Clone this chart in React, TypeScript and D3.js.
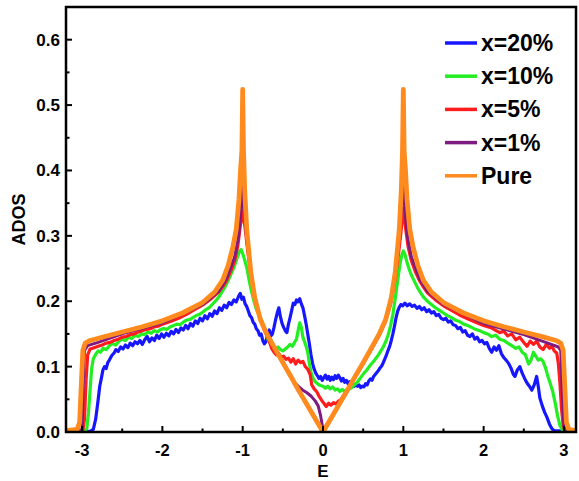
import * as d3 from "d3";
import { useEffect, useRef } from "react";

type Pt = [number, number];

const seriesNames = ["x=20%", "x=10%", "x=5%", "x=1%", "Pure"];
const seriesColors = ["#1717ff", "#22ee22", "#ff1c1c", "#7f1a80", "#ff8a1e"];
const seriesWidths = [3.2, 3.2, 3.2, 3, 4.8];
const xTicks = [-3, -2, -1, 0, 1, 2, 3];
const xMinor = [-2.5, -1.5, -0.5, 0.5, 1.5, 2.5];
const yTicks = [0, 0.1, 0.2, 0.3, 0.4, 0.5, 0.6];
const yMinor = [0.05, 0.15, 0.25, 0.35, 0.45, 0.55];

// x = 20%
const blue: Pt[] = [
  [-3.2, 0.001], [-2.9, 0.001], [-2.86, 0.004], [-2.83, 0.02], [-2.8, 0.049], [-2.78, 0.07], [-2.76, 0.082],
  [-2.74, 0.095], [-2.72, 0.1], [-2.7, 0.097], [-2.68, 0.106], [-2.66, 0.11], [-2.63, 0.117], [-2.6, 0.121],
  [-2.58, 0.126], [-2.55, 0.123], [-2.52, 0.13], [-2.49, 0.127], [-2.46, 0.133], [-2.43, 0.129], [-2.4, 0.136],
  [-2.37, 0.132], [-2.34, 0.138], [-2.31, 0.135], [-2.28, 0.14], [-2.25, 0.134], [-2.22, 0.141], [-2.19, 0.146],
  [-2.16, 0.138], [-2.13, 0.144], [-2.1, 0.14], [-2.07, 0.148], [-2.04, 0.143], [-2.01, 0.15], [-1.98, 0.145],
  [-1.95, 0.151], [-1.92, 0.147], [-1.89, 0.154], [-1.86, 0.15], [-1.83, 0.157], [-1.8, 0.152], [-1.77, 0.159],
  [-1.74, 0.156], [-1.71, 0.163], [-1.68, 0.158], [-1.65, 0.166], [-1.62, 0.162], [-1.59, 0.17], [-1.56, 0.166],
  [-1.53, 0.174], [-1.5, 0.17], [-1.47, 0.178], [-1.44, 0.173], [-1.41, 0.181], [-1.38, 0.177], [-1.35, 0.185],
  [-1.32, 0.181], [-1.29, 0.19], [-1.26, 0.186], [-1.23, 0.194], [-1.2, 0.19], [-1.17, 0.198], [-1.14, 0.195],
  [-1.11, 0.202], [-1.08, 0.199], [-1.05, 0.208], [-1.03, 0.212], [-1.01, 0.203], [-0.99, 0.206], [-0.97, 0.196],
  [-0.95, 0.192], [-0.93, 0.185], [-0.91, 0.178], [-0.89, 0.175], [-0.87, 0.168], [-0.85, 0.165], [-0.83, 0.158],
  [-0.81, 0.155], [-0.79, 0.148], [-0.77, 0.15], [-0.75, 0.14], [-0.73, 0.135], [-0.71, 0.138], [-0.69, 0.15],
  [-0.67, 0.156], [-0.65, 0.147], [-0.63, 0.15], [-0.61, 0.16], [-0.59, 0.172], [-0.57, 0.182], [-0.55, 0.19],
  [-0.53, 0.176], [-0.51, 0.166], [-0.49, 0.16], [-0.47, 0.155], [-0.45, 0.152], [-0.43, 0.165], [-0.41, 0.175],
  [-0.39, 0.186], [-0.37, 0.197], [-0.35, 0.195], [-0.33, 0.202], [-0.31, 0.199], [-0.29, 0.204], [-0.27, 0.196],
  [-0.25, 0.19], [-0.23, 0.178], [-0.21, 0.165], [-0.19, 0.15], [-0.17, 0.135], [-0.15, 0.118], [-0.13, 0.105],
  [-0.11, 0.096], [-0.09, 0.09], [-0.07, 0.086], [-0.05, 0.082], [-0.03, 0.085], [-0.01, 0.079], [0.01, 0.083],
  [0.03, 0.087], [0.05, 0.081], [0.07, 0.085], [0.09, 0.079], [0.11, 0.084], [0.13, 0.08], [0.15, 0.086],
  [0.17, 0.082], [0.19, 0.087], [0.21, 0.083], [0.23, 0.078], [0.25, 0.082], [0.27, 0.076], [0.29, 0.079],
  [0.31, 0.074], [0.33, 0.077], [0.35, 0.072], [0.37, 0.075], [0.39, 0.07], [0.41, 0.073], [0.43, 0.07],
  [0.45, 0.072], [0.47, 0.068], [0.49, 0.07], [0.51, 0.069], [0.53, 0.074], [0.55, 0.072], [0.57, 0.078],
  [0.59, 0.081], [0.61, 0.079], [0.63, 0.085], [0.65, 0.088], [0.67, 0.091], [0.69, 0.094], [0.71, 0.098],
  [0.73, 0.101], [0.75, 0.106], [0.77, 0.112], [0.79, 0.118], [0.81, 0.125], [0.83, 0.131], [0.85, 0.14],
  [0.87, 0.15], [0.89, 0.162], [0.91, 0.175], [0.93, 0.185], [0.95, 0.191], [0.97, 0.195], [0.99, 0.193],
  [1.02, 0.197], [1.05, 0.193], [1.08, 0.196], [1.11, 0.192], [1.14, 0.194], [1.17, 0.189], [1.2, 0.192],
  [1.23, 0.187], [1.26, 0.19], [1.29, 0.184], [1.32, 0.187], [1.35, 0.182], [1.38, 0.184], [1.41, 0.178],
  [1.44, 0.18], [1.47, 0.174], [1.5, 0.172], [1.53, 0.174], [1.56, 0.168], [1.59, 0.17], [1.62, 0.164],
  [1.65, 0.163], [1.68, 0.158], [1.71, 0.16], [1.74, 0.153], [1.77, 0.155], [1.8, 0.148], [1.83, 0.146],
  [1.86, 0.15], [1.89, 0.142], [1.92, 0.145], [1.95, 0.138], [1.98, 0.14], [2.01, 0.135], [2.04, 0.137],
  [2.07, 0.128], [2.1, 0.122], [2.13, 0.13], [2.16, 0.125], [2.19, 0.132], [2.22, 0.12], [2.25, 0.114],
  [2.28, 0.11], [2.31, 0.105], [2.34, 0.098], [2.37, 0.088], [2.39, 0.085], [2.42, 0.095], [2.45, 0.1],
  [2.48, 0.09], [2.51, 0.082], [2.54, 0.075], [2.57, 0.07], [2.6, 0.064], [2.63, 0.072], [2.66, 0.085],
  [2.68, 0.07], [2.7, 0.052], [2.73, 0.04], [2.76, 0.03], [2.79, 0.022], [2.82, 0.012], [2.85, 0.005],
  [2.88, 0.002], [3.15, 0.001],
];

// x = 10%
const green: Pt[] = [
  [-3.2, 0.002], [-2.96, 0.002], [-2.94, 0.006], [-2.92, 0.03], [-2.9, 0.064], [-2.88, 0.098], [-2.86, 0.112],
  [-2.83, 0.119], [-2.8, 0.124], [-2.77, 0.122], [-2.74, 0.128], [-2.7, 0.126], [-2.66, 0.132], [-2.62, 0.135],
  [-2.58, 0.133], [-2.54, 0.139], [-2.5, 0.142], [-2.46, 0.14], [-2.42, 0.145], [-2.38, 0.143], [-2.34, 0.148],
  [-2.3, 0.146], [-2.26, 0.15], [-2.22, 0.149], [-2.18, 0.153], [-2.14, 0.151], [-2.1, 0.155], [-2.06, 0.153],
  [-2.02, 0.157], [-1.98, 0.158], [-1.94, 0.157], [-1.9, 0.161], [-1.86, 0.163], [-1.82, 0.165], [-1.78, 0.164],
  [-1.74, 0.168], [-1.7, 0.171], [-1.66, 0.172], [-1.62, 0.175], [-1.58, 0.178], [-1.54, 0.18], [-1.5, 0.183],
  [-1.46, 0.187], [-1.42, 0.19], [-1.38, 0.195], [-1.34, 0.2], [-1.3, 0.206], [-1.26, 0.214], [-1.22, 0.222],
  [-1.18, 0.232], [-1.14, 0.243], [-1.1, 0.255], [-1.07, 0.266], [-1.04, 0.276], [-1.02, 0.279], [-1.0, 0.273],
  [-0.98, 0.265], [-0.95, 0.252], [-0.92, 0.232], [-0.89, 0.215], [-0.86, 0.2], [-0.83, 0.188], [-0.8, 0.18],
  [-0.77, 0.172], [-0.74, 0.163], [-0.71, 0.15], [-0.68, 0.14], [-0.65, 0.134], [-0.62, 0.13], [-0.59, 0.127],
  [-0.56, 0.13], [-0.53, 0.126], [-0.5, 0.124], [-0.47, 0.127], [-0.44, 0.13], [-0.41, 0.134], [-0.38, 0.131],
  [-0.35, 0.138], [-0.33, 0.142], [-0.31, 0.155], [-0.29, 0.167], [-0.27, 0.16], [-0.25, 0.145], [-0.23, 0.138],
  [-0.21, 0.131], [-0.19, 0.122], [-0.17, 0.105], [-0.15, 0.092], [-0.13, 0.084], [-0.11, 0.079], [-0.09, 0.076],
  [-0.06, 0.073], [-0.03, 0.071], [0.0, 0.07], [0.03, 0.067], [0.06, 0.07], [0.09, 0.066], [0.12, 0.069],
  [0.15, 0.064], [0.18, 0.066], [0.21, 0.062], [0.24, 0.065], [0.27, 0.062], [0.3, 0.064], [0.33, 0.066],
  [0.36, 0.068], [0.39, 0.072], [0.42, 0.075], [0.45, 0.08], [0.48, 0.085], [0.51, 0.09], [0.54, 0.094],
  [0.57, 0.099], [0.6, 0.104], [0.63, 0.108], [0.66, 0.113], [0.69, 0.118], [0.72, 0.124], [0.75, 0.13],
  [0.78, 0.138], [0.81, 0.148], [0.84, 0.162], [0.87, 0.18], [0.9, 0.205], [0.93, 0.232], [0.96, 0.258],
  [0.98, 0.27], [1.0, 0.277], [1.02, 0.272], [1.04, 0.262], [1.07, 0.25], [1.1, 0.24], [1.14, 0.23],
  [1.18, 0.22], [1.22, 0.212], [1.26, 0.205], [1.3, 0.2], [1.35, 0.195], [1.4, 0.19], [1.45, 0.186],
  [1.5, 0.182], [1.55, 0.178], [1.6, 0.175], [1.65, 0.171], [1.7, 0.169], [1.75, 0.165], [1.8, 0.163],
  [1.85, 0.16], [1.9, 0.157], [1.95, 0.155], [2.0, 0.152], [2.05, 0.15], [2.1, 0.146], [2.15, 0.148],
  [2.2, 0.142], [2.25, 0.14], [2.3, 0.136], [2.35, 0.132], [2.4, 0.128], [2.44, 0.13], [2.48, 0.122],
  [2.52, 0.118], [2.56, 0.104], [2.59, 0.11], [2.62, 0.122], [2.65, 0.116], [2.68, 0.11], [2.71, 0.112],
  [2.74, 0.108], [2.77, 0.098], [2.8, 0.085], [2.83, 0.074], [2.86, 0.062], [2.89, 0.045], [2.92, 0.025],
  [2.95, 0.01], [2.98, 0.003], [3.15, 0.002],
];

// x = 5%
const red: Pt[] = [
  [-3.2, 0.002], [-2.99, 0.003], [-2.97, 0.02], [-2.95, 0.08], [-2.93, 0.118], [-2.9, 0.127], [-2.85, 0.129],
  [-2.8, 0.131], [-2.75, 0.133], [-2.7, 0.136], [-2.65, 0.137], [-2.6, 0.14], [-2.55, 0.142], [-2.5, 0.145],
  [-2.45, 0.146], [-2.4, 0.149], [-2.35, 0.15], [-2.3, 0.153], [-2.25, 0.155], [-2.2, 0.157], [-2.15, 0.158],
  [-2.1, 0.161], [-2.05, 0.162], [-2.0, 0.165], [-1.9, 0.169], [-1.8, 0.174], [-1.7, 0.18], [-1.6, 0.187],
  [-1.5, 0.194], [-1.4, 0.203], [-1.3, 0.214], [-1.25, 0.222], [-1.2, 0.232], [-1.15, 0.246], [-1.1, 0.262],
  [-1.06, 0.285], [-1.03, 0.315], [-1.0, 0.338], [-0.97, 0.312], [-0.94, 0.28], [-0.91, 0.252], [-0.88, 0.228],
  [-0.85, 0.208], [-0.82, 0.192], [-0.79, 0.178], [-0.76, 0.166], [-0.73, 0.156], [-0.7, 0.148], [-0.67, 0.139],
  [-0.64, 0.128], [-0.61, 0.122], [-0.58, 0.118], [-0.55, 0.12], [-0.52, 0.114], [-0.49, 0.116], [-0.46, 0.111],
  [-0.43, 0.113], [-0.4, 0.107], [-0.37, 0.112], [-0.34, 0.104], [-0.31, 0.11], [-0.28, 0.106], [-0.25, 0.108],
  [-0.22, 0.1], [-0.19, 0.096], [-0.16, 0.088], [-0.14, 0.072], [-0.11, 0.066], [-0.08, 0.062], [-0.05, 0.055],
  [-0.02, 0.049], [0.01, 0.044], [0.04, 0.039], [0.07, 0.044], [0.1, 0.041], [0.13, 0.045], [0.16, 0.043],
  [0.19, 0.047], [0.22, 0.049], [0.3, 0.064], [0.4, 0.084], [0.5, 0.105], [0.6, 0.126], [0.7, 0.148],
  [0.78, 0.17], [0.84, 0.195], [0.9, 0.235], [0.94, 0.272], [0.97, 0.305], [1.0, 0.343], [1.03, 0.31],
  [1.06, 0.283], [1.1, 0.262], [1.15, 0.245], [1.2, 0.232], [1.25, 0.222], [1.3, 0.213], [1.4, 0.202],
  [1.5, 0.193], [1.6, 0.186], [1.7, 0.179], [1.8, 0.173], [1.9, 0.168], [2.0, 0.163], [2.1, 0.159],
  [2.2, 0.152], [2.25, 0.154], [2.3, 0.147], [2.35, 0.15], [2.4, 0.141], [2.45, 0.145], [2.5, 0.137],
  [2.54, 0.131], [2.58, 0.139], [2.62, 0.134], [2.66, 0.139], [2.7, 0.13], [2.74, 0.126], [2.78, 0.134],
  [2.82, 0.128], [2.85, 0.131], [2.88, 0.124], [2.91, 0.121], [2.93, 0.105], [2.95, 0.075], [2.97, 0.035],
  [2.99, 0.01], [3.01, 0.003], [3.15, 0.002],
];

// x = 1%
const purple: Pt[] = [
  [-3.2, 0.002], [-3.0, 0.003], [-2.99, 0.06], [-2.97, 0.125], [-2.93, 0.132], [-2.8, 0.137], [-2.5, 0.15],
  [-2.0, 0.167], [-1.5, 0.195], [-1.3, 0.215], [-1.2, 0.235], [-1.1, 0.268], [-1.05, 0.3], [-1.02, 0.34],
  [-1.0, 0.39], [-0.98, 0.34], [-0.95, 0.295], [-0.9, 0.243], [-0.85, 0.204], [-0.78, 0.171], [-0.7, 0.15],
  [-0.6, 0.128], [-0.5, 0.108], [-0.4, 0.086], [-0.35, 0.075], [-0.3, 0.069], [-0.25, 0.064], [-0.2, 0.06],
  [-0.15, 0.055], [-0.1, 0.048], [-0.06, 0.04], [-0.03, 0.025], [0.0, 0.004], [0.03, 0.008], [0.1, 0.022],
  [0.2, 0.043], [0.3, 0.064], [0.4, 0.085], [0.5, 0.106], [0.6, 0.127], [0.7, 0.149], [0.78, 0.171],
  [0.85, 0.203], [0.9, 0.243], [0.95, 0.305], [0.98, 0.35], [1.0, 0.39], [1.02, 0.34], [1.05, 0.3],
  [1.1, 0.268], [1.2, 0.235], [1.3, 0.215], [1.5, 0.195], [2.0, 0.166], [2.5, 0.149], [2.8, 0.136],
  [2.93, 0.13], [2.96, 0.125], [2.98, 0.06], [3.0, 0.008], [3.02, 0.003], [3.15, 0.002],
];

// pure
const orange: Pt[] = [
  [-3.2, 0.002], [-3.06, 0.004], [-3.03, 0.015], [-3.01, 0.07], [-2.99, 0.125], [-2.96, 0.136], [-2.9, 0.14],
  [-2.75, 0.145], [-2.5, 0.153], [-2.25, 0.161], [-2.0, 0.17], [-1.75, 0.182], [-1.5, 0.198], [-1.35, 0.214],
  [-1.25, 0.232], [-1.18, 0.255], [-1.12, 0.284], [-1.08, 0.31], [-1.046, 0.356], [-1.027, 0.4], [-1.01, 0.43],
  [-1.0, 0.524], [-0.99, 0.43], [-0.975, 0.37], [-0.95, 0.31], [-0.9, 0.245], [-0.85, 0.205], [-0.78, 0.172],
  [-0.7, 0.15], [-0.6, 0.128], [-0.5, 0.106], [-0.4, 0.085], [-0.3, 0.063], [-0.2, 0.042], [-0.1, 0.021],
  [0.0, 0.0], [0.1, 0.021], [0.2, 0.042], [0.3, 0.063], [0.4, 0.085], [0.5, 0.106], [0.6, 0.128],
  [0.7, 0.15], [0.78, 0.172], [0.85, 0.205], [0.9, 0.245], [0.95, 0.31], [0.975, 0.37], [0.99, 0.43],
  [1.0, 0.524], [1.01, 0.43], [1.027, 0.4], [1.046, 0.356], [1.08, 0.31], [1.12, 0.284], [1.18, 0.255],
  [1.25, 0.232], [1.35, 0.214], [1.5, 0.198], [1.75, 0.182], [2.0, 0.17], [2.25, 0.161], [2.5, 0.153],
  [2.75, 0.145], [2.9, 0.14], [2.96, 0.136], [2.99, 0.125], [3.01, 0.07], [3.03, 0.015], [3.06, 0.004],
  [3.15, 0.002],
];

const allSeries = [blue, green, red, purple, orange];

const FONT = "'Liberation Sans', Arial, sans-serif";

function drawChart(svgElement: SVGSVGElement) {
  const width = 579;
  const height = 481;
  const margin = { top: 7, right: 3, bottom: 49, left: 66 };
  const svg = d3.select(svgElement);
  svg.selectAll("*").remove();

  const x = d3.scaleLinear().domain([-3.2, 3.15]).range([margin.left, width - margin.right]);
  const y = d3.scaleLinear().domain([0, 0.65]).range([height - margin.bottom, margin.top]);

  const line = d3
    .line<Pt>()
    .x((d) => x(d[0]))
    .y((d) => y(d[1]));

  svg
    .append("defs")
    .append("clipPath")
    .attr("id", "plot-clip")
    .append("rect")
    .attr("x", x(-3.2))
    .attr("y", y(0.65))
    .attr("width", x(3.15) - x(-3.2))
    .attr("height", y(0) - y(0.65));

  svg
    .append("g")
    .attr("clip-path", "url(#plot-clip)")
    .selectAll("path")
    .data(allSeries)
    .join("path")
    .attr("d", (d) => line(d))
    .attr("fill", "none")
    .attr("stroke", (_, i) => seriesColors[i])
    .attr("stroke-width", (_, i) => seriesWidths[i])
    .attr("stroke-linejoin", "round")
    .attr("stroke-linecap", "round");

  // frame
  svg
    .append("rect")
    .attr("x", x(-3.2))
    .attr("y", y(0.65))
    .attr("width", x(3.15) - x(-3.2))
    .attr("height", y(0) - y(0.65))
    .attr("fill", "none")
    .attr("stroke", "#000")
    .attr("stroke-width", 2.5);

  const axisX = svg.append("g").attr("stroke", "#000").attr("stroke-width", 2);
  axisX
    .selectAll("line.major")
    .data(xTicks)
    .join("line")
    .attr("x1", (d) => x(d))
    .attr("x2", (d) => x(d))
    .attr("y1", y(0))
    .attr("y2", y(0) - 6);
  axisX
    .selectAll("line.minor")
    .data(xMinor)
    .join("line")
    .attr("class", "minor")
    .attr("x1", (d) => x(d))
    .attr("x2", (d) => x(d))
    .attr("y1", y(0))
    .attr("y2", y(0) - 3.5);

  const axisY = svg.append("g").attr("stroke", "#000").attr("stroke-width", 2);
  axisY
    .selectAll("line.major")
    .data(yTicks)
    .join("line")
    .attr("x1", x(-3.2))
    .attr("x2", x(-3.2) + 6)
    .attr("y1", (d) => y(d))
    .attr("y2", (d) => y(d));
  axisY
    .selectAll("line.minor")
    .data(yMinor)
    .join("line")
    .attr("class", "minor")
    .attr("x1", x(-3.2))
    .attr("x2", x(-3.2) + 3.5)
    .attr("y1", (d) => y(d))
    .attr("y2", (d) => y(d));

  svg
    .append("g")
    .selectAll("text")
    .data(xTicks)
    .join("text")
    .attr("x", (d) => x(d))
    .attr("y", y(0) + 24)
    .attr("text-anchor", "middle")
    .attr("font-family", FONT)
    .attr("font-weight", "bold")
    .attr("font-size", 16.5)
    .text((d) => String(d));

  svg
    .append("g")
    .selectAll("text")
    .data(yTicks)
    .join("text")
    .attr("x", x(-3.2) - 6)
    .attr("y", (d) => y(d) + 6)
    .attr("text-anchor", "end")
    .attr("font-family", FONT)
    .attr("font-weight", "bold")
    .attr("font-size", 17)
    .text((d) => d3.format(".1f")(d));

  svg
    .append("text")
    .attr("x", x(0))
    .attr("y", 477)
    .attr("text-anchor", "middle")
    .attr("font-family", FONT)
    .attr("font-weight", "bold")
    .attr("font-size", 17)
    .text("E");

  svg
    .append("text")
    .attr("transform", `translate(25,${(y(0) + y(0.65)) / 2}) rotate(-90)`)
    .attr("text-anchor", "middle")
    .attr("font-family", FONT)
    .attr("font-weight", "bold")
    .attr("font-size", 18)
    .text("ADOS");

  const legend = svg
    .append("g")
    .selectAll("g")
    .data(seriesNames)
    .join("g")
    .attr("transform", (_, i) => `translate(445,${43 + i * 33.2})`);
  legend
    .append("line")
    .attr("x1", 0)
    .attr("x2", 32)
    .attr("stroke", (_, i) => seriesColors[i])
    .attr("stroke-width", 3.5);
  legend
    .append("text")
    .attr("x", 36)
    .attr("y", 8)
    .attr("font-family", FONT)
    .attr("font-weight", "bold")
    .attr("font-size", 23)
    .text((d) => d);
}

export default function App() {
  const svgRef = useRef<SVGSVGElement>(null);

  useEffect(() => {
    if (svgRef.current) drawChart(svgRef.current);
  }, []);

  return (
    <svg
      ref={svgRef}
      width={579}
      height={481}
      style={{ position: "absolute", left: 0, top: 0, background: "#fff" }}
    />
  );
}
